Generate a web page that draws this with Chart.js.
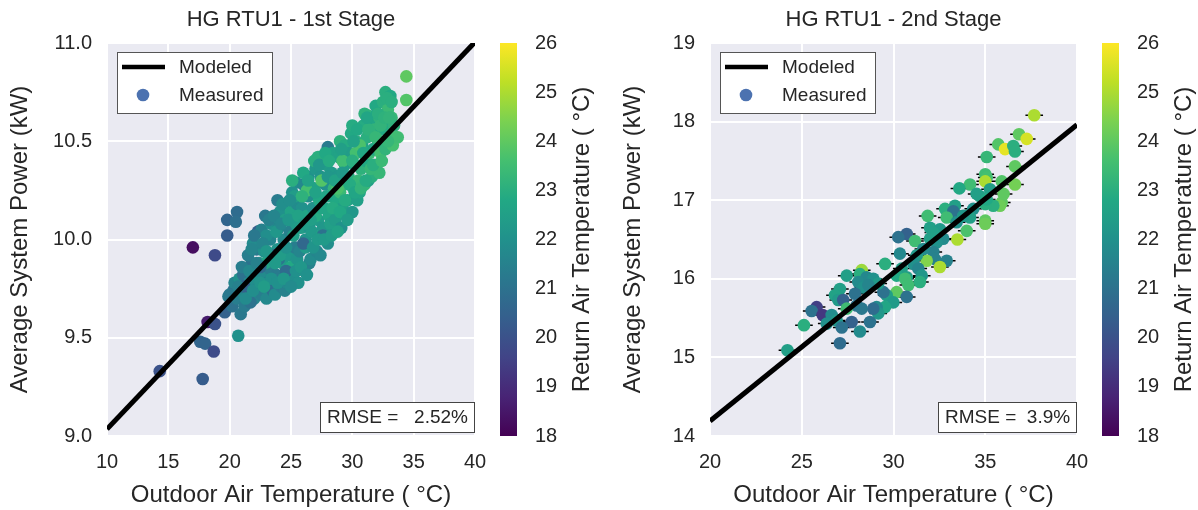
<!DOCTYPE html>
<html>
<head>
<meta charset="utf-8">
<script src="https://cdn.jsdelivr.net/npm/chart.js@4.4.1/dist/chart.umd.min.js"></script>
<style>
  html, body { margin: 0; padding: 0; background: #fff; }
  #wrap { position: relative; width: 1198px; height: 510px; overflow: hidden; }
  #wrap canvas { position: absolute; top: 0; }
</style>
</head>
<body>
<div id="wrap">
  <canvas id="stage1" width="510" height="510" style="left:0px"></canvas>
  <canvas id="bar1" width="110" height="510" style="left:490px"></canvas>
  <canvas id="stage2" width="510" height="510" style="left:600px"></canvas>
  <canvas id="bar2" width="106" height="510" style="left:1092px"></canvas>
</div>
<script>
// ---- 1st stage: outdoor temp (C), avg power (kW), return air temp (C)
const outdoorTemp1 = [
  34.4,34.4,33.7,32.7,33.1,31.3,31.9,28.0,27.2,25.4,26.4,23.9,24.8,20.6,19.8,20.5,19.8,17.0,18.8,22.3,20.7,18.2,18.8,17.6,18.0,18.7,14.3,17.8,19.6,20.3,19.9,
  20.2,20.6,20.9,20.4,21.0,20.8,21.2,21.1,
  21.4,21.6,21.8,21.5,22.0,22.1,22.2,21.9,22.3,22.4,21.7,
  22.6,22.7,22.8,22.6,22.9,23.0,23.1,23.2,23.3,23.4,23.5,23.0,23.3,22.9,
  23.7,23.8,23.9,24.0,24.1,24.2,24.3,24.4,24.5,24.0,24.3,24.5,23.8,
  24.7,24.8,24.9,25.0,25.1,25.2,25.3,25.4,25.5,25.0,25.3,24.9,25.5,
  25.6,25.7,25.8,25.9,26.0,26.1,26.2,26.3,26.4,26.5,26.0,26.2,26.5,
  26.6,26.7,26.8,26.9,27.0,27.1,27.2,27.3,27.4,27.5,26.9,27.4,27.0,
  27.6,27.7,27.8,27.9,28.0,28.1,28.2,28.3,28.4,28.5,28.2,28.5,27.8,
  28.6,28.7,28.8,28.9,29.0,29.1,29.2,29.3,29.4,29.5,29.0,29.4,
  29.6,29.7,29.8,29.9,30.0,30.1,30.2,30.3,30.4,30.5,30.0,30.3,
  30.6,30.7,30.8,30.9,31.0,31.1,31.2,31.3,31.4,31.5,31.0,
  31.6,31.7,31.8,31.9,32.0,32.1,32.2,32.3,32.4,32.5,32.2,
  32.7,32.8,32.9,33.0,33.2,33.3,33.4,32.8,
  26.3,27.5,28.8,30.6,29.2,21.2,22.5,23.6,24.6,26.0,27.6,
  20.0,20.7,21.3,21.0,
  21.6,21.9,22.2,22.0,21.8,
  22.5,22.7,23.0,23.2,23.4,22.8,
  23.6,23.9,24.1,24.2,24.4,23.7,
  24.6,24.8,25.0,25.2,25.4,25.1,
  25.6,25.8,25.9,26.1,26.3,26.4,
  26.6,26.8,27.0,27.2,27.3,27.5,
  27.7,27.9,28.1,28.3,28.4,28.0,
  28.6,28.8,29.0,29.2,29.4,29.1,
  29.6,29.8,30.0,30.2,30.4,30.1,
  30.7,30.9,31.1,31.3,31.5,31.2,
  31.7,31.9,32.1,32.3,32.4,32.6,
  33.0,33.2,33.5,32.9
];
const power1 = [
  10.83,10.71,10.52,10.75,10.73,10.63,10.63,10.47,10.42,10.29,10.32,10.20,10.19,10.14,10.10,10.09,10.02,9.96,9.92,10.04,9.51,9.58,9.57,9.48,9.47,9.43,9.33,9.29,9.63,9.74,9.71,
  9.66,9.70,9.62,9.78,9.74,9.80,9.66,9.82,
  9.72,9.78,9.88,9.92,9.70,9.82,9.95,9.98,9.75,9.88,9.68,
  9.72,9.82,9.94,10.05,10.12,9.70,9.78,9.90,10.00,10.08,9.74,10.02,9.85,9.88,
  9.72,9.82,9.95,10.06,10.14,9.76,9.88,10.00,10.10,9.90,10.18,9.74,10.04,
  9.78,9.92,10.04,10.14,10.24,9.80,9.96,10.08,10.18,9.86,10.22,10.20,9.90,
  9.78,9.94,10.06,10.16,10.28,9.84,10.00,10.12,10.22,9.88,10.34,9.96,10.06,
  9.90,10.04,10.16,10.26,10.36,9.94,10.10,10.20,10.32,10.02,10.40,9.92,10.12,
  10.06,10.16,10.28,10.38,9.98,10.12,10.22,10.34,10.44,10.04,10.08,10.26,10.44,
  10.10,10.20,10.32,10.42,10.50,10.06,10.16,10.28,10.38,10.12,10.24,10.48,
  10.20,10.32,10.44,10.54,10.14,10.26,10.38,10.50,10.20,10.30,10.58,10.44,
  10.24,10.36,10.48,10.58,10.28,10.40,10.52,10.30,10.44,10.60,10.64,
  10.32,10.46,10.56,10.68,10.38,10.50,10.62,10.44,10.56,10.70,10.34,
  10.46,10.58,10.66,10.52,10.62,10.48,10.58,10.72,
  10.25,10.30,10.26,10.48,10.40,9.76,9.86,9.92,9.84,9.98,10.02,
  9.72,9.76,9.70,9.86,
  9.84,9.74,9.88,10.02,9.95,
  9.78,9.98,9.94,10.10,9.80,9.76,
  10.12,9.78,9.92,10.08,9.80,9.88,
  9.96,10.10,9.76,10.02,9.84,10.30,
  10.12,9.86,10.22,10.08,9.82,10.30,
  10.10,9.96,10.24,10.00,10.38,10.16,
  10.00,10.22,10.40,10.02,10.16,10.32,
  10.30,10.04,10.14,10.34,10.20,10.46,
  10.10,10.28,10.40,10.24,10.56,10.50,
  10.26,10.44,10.30,10.56,10.36,10.62,
  10.38,10.52,10.64,10.58,10.40,10.62,
  10.62,10.70,10.52,10.50
];
const returnTemp1 = [
  24.0,23.8,23.5,23.0,22.8,23.2,22.8,21.3,23.0,21.8,22.0,21.3,23.6,20.8,20.6,20.9,20.3,18.3,19.8,20.4,22.0,18.6,20.0,20.6,20.6,19.8,20.0,20.3,20.5,21.0,21.3,
  21.0,21.4,21.2,21.6,21.8,22.0,21.3,21.0,
  21.5,21.9,21.0,21.4,21.6,22.0,21.2,21.8,21.3,22.2,21.0,
  21.4,21.8,22.0,21.5,21.2,21.7,21.2,22.4,21.6,22.0,20.9,21.9,21.4,22.6,
  21.8,21.3,22.1,21.6,22.0,21.4,22.3,21.8,22.4,21.1,21.9,21.5,22.2,
  21.7,22.2,21.5,22.6,22.0,21.9,21.4,22.3,21.8,22.8,22.4,21.9,22.1,
  22.0,21.6,22.4,22.0,21.7,22.5,22.1,22.7,21.9,21.5,22.8,22.3,22.0,
  21.8,22.3,22.0,22.6,22.2,21.6,22.4,22.8,22.1,22.5,23.0,21.7,22.9,
  22.2,22.6,22.0,22.4,21.9,22.7,23.0,22.3,22.6,22.1,22.5,23.2,22.8,
  22.4,22.8,22.2,22.6,23.1,22.0,22.5,23.0,22.4,22.7,23.4,22.9,
  22.6,23.0,22.4,22.8,22.2,23.2,22.6,23.0,22.5,23.3,22.9,23.6,
  22.7,23.1,22.6,22.9,23.3,22.8,23.0,22.5,23.4,22.7,23.1,
  23.0,22.7,23.2,22.8,23.5,22.9,23.1,23.6,22.8,23.0,23.3,
  23.2,22.9,23.4,23.0,23.3,23.6,23.1,23.0,
  23.6,23.8,23.7,23.7,23.5,20.5,20.8,20.6,20.8,20.7,21.0,
  21.2,21.5,21.8,21.4,
  21.7,21.9,21.5,21.2,21.6,
  22.1,21.6,22.2,21.5,22.0,22.4,
  21.6,22.0,22.4,21.7,22.2,22.3,
  22.0,22.2,21.8,22.5,22.0,23.0,
  22.6,22.2,23.1,22.4,22.0,22.6,
  22.5,22.1,22.6,22.3,22.2,22.7,
  22.3,22.7,22.9,22.4,22.9,22.2,
  22.6,22.6,22.8,22.3,22.9,22.5,
  22.4,22.9,23.0,22.7,22.8,22.6,
  23.2,22.8,22.9,23.1,23.3,22.7,
  23.0,23.3,23.0,23.2,23.4,23.1,
  23.2,23.0,23.5,23.3
];
const modelTemp1 = [10, 40];
const modelPower1 = [9.035, 11.005];

// ---- 2nd stage
const outdoorTemp2 = [
  37.67,36.84,37.26,35.71,36.08,36.53,36.62,35.08,36.62,35.00,
  35.08,35.00,36.62,35.90,34.17,33.59,36.00,35.26,35.90,35.80,
  35.44,35.00,34.35,33.99,34.17,33.35,32.81,33.26,32.90,35.00,
  35.00,33.99,33.48,31.86,31.99,32.53,32.17,32.71,32.35,30.72,
  30.26,31.17,31.99,32.17,32.26,32.90,32.53,31.81,31.63,31.27,
  30.35,29.54,31.08,31.35,31.54,30.45,30.72,30.17,30.63,30.81,
  31.44,30.17,30.72,29.63,29.99,29.54,29.08,29.17,28.90,29.45,
  28.27,28.17,27.45,28.54,28.90,29.17,28.08,28.36,28.63,27.08,
  26.81,26.99,27.90,27.26,27.99,28.27,27.45,25.81,25.54,26.14,
  26.63,26.90,27.72,28.72,25.12,26.36,27.18,28.17,27.08,24.22,
  34.53,34.71,35.08,33.44,33.80
];
const power2 = [
  18.08,17.84,17.78,17.71,17.65,17.69,17.62,17.55,17.43,17.33,
  17.29,17.24,17.20,17.24,17.20,17.15,17.08,17.14,16.97,16.93,
  16.93,16.95,16.89,16.80,16.78,16.93,16.89,16.86,16.78,16.74,
  16.70,16.61,16.50,16.80,16.65,16.63,16.59,16.51,16.46,16.57,
  16.53,16.48,16.51,16.34,16.25,16.23,16.15,16.23,16.38,16.30,
  16.32,16.19,16.19,16.13,16.04,16.13,16.02,16.04,16.00,15.92,
  15.96,15.83,15.77,15.79,15.70,15.64,15.64,15.56,15.62,15.83,
  16.11,16.06,16.04,16.02,16.00,15.94,15.96,15.89,15.92,15.87,
  15.79,15.73,15.81,15.73,15.66,15.62,15.62,15.64,15.59,15.54,
  15.54,15.47,15.45,15.45,15.41,15.43,15.38,15.33,15.18,15.09,
  17.08,17.05,17.01,16.72,16.80
];
const returnTemp2 = [
  25.0,24.0,25.5,23.8,25.7,23.0,23.0,23.3,24.0,23.5,
  23.6,25.0,24.3,23.8,23.5,22.8,24.0,22.5,24.0,24.2,
  23.0,23.0,22.0,22.5,22.5,22.5,23.0,21.0,23.5,24.0,
  24.2,23.7,25.0,23.5,22.5,22.3,22.5,21.8,22.0,20.5,
  21.0,23.5,22.5,21.5,21.5,21.5,25.0,24.5,21.8,22.3,
  21.7,23.0,22.0,21.6,22.2,22.5,22.5,22.8,23.5,23.5,
  23.0,24.0,21.0,22.5,22.3,22.7,21.8,22.2,20.8,21.0,
  24.8,23.0,22.5,21.7,22.0,22.3,21.8,22.0,21.6,22.5,
  22.6,22.3,21.0,20.5,21.0,21.2,23.5,19.5,21.0,19.3,
  21.8,22.2,20.5,21.0,23.0,22.0,21.0,21.8,20.8,22.5,
  22.5,22.5,22.8,22.0,22.2
];
const tempErr2 = 0.48;
const modelTemp2 = [20, 40];
const modelPower2 = [14.19, 17.96];

// ---- axes / colour bar
const tempTicks1 = [10, 15, 20, 25, 30, 35, 40];
const powerTicks1 = [9.0, 9.5, 10.0, 10.5, 11.0];
const tempTicks2 = [20, 25, 30, 35, 40];
const powerTicks2 = [14, 15, 16, 17, 18, 19];
const cbTicks = [18, 19, 20, 21, 22, 23, 24, 25, 26];
const viridisStops = ['#440154','#482475','#414487','#355f8d','#2a788e','#21918c','#22a884','#44bf70','#7ad151','#bddf26','#fde725'];
const measuredKeyColor = '#4c72b0';

const FONT = '"Liberation Sans", Arial, sans-serif';
const INK = '#262626';
Chart.defaults.font.family = FONT;
Chart.defaults.color = INK;

function hexRgb(h) {
    return [parseInt(h.slice(1,3),16), parseInt(h.slice(3,5),16), parseInt(h.slice(5,7),16)];
}
function viridis(v) {
    const lo = cbTicks[0], hi = cbTicks[cbTicks.length-1];
    const t = Math.min(1, Math.max(0, (v - lo) / (hi - lo)));
    const p = t * (viridisStops.length - 1);
    const i = Math.min(Math.floor(p), viridisStops.length - 2);
    const f = p - i;
    const a = hexRgb(viridisStops[i]), b = hexRgb(viridisStops[i+1]);
    return `rgb(${Math.round(a[0]+(b[0]-a[0])*f)},${Math.round(a[1]+(b[1]-a[1])*f)},${Math.round(a[2]+(b[2]-a[2])*f)})`;
}

// grey plot background
const plotBg = {
    id: 'plotBg',
    beforeDraw(chart) {
        const a = chart.chartArea, ctx = chart.ctx;
        ctx.save();
        ctx.fillStyle = '#eaeaf2';
        ctx.fillRect(a.left, a.top, a.right - a.left, a.bottom - a.top);
        ctx.restore();
    }
};

// horizontal error bars behind the dots
const errorBars = {
    id: 'errorBars',
    beforeDatasetsDraw(chart, args, opts) {
        if (!opts.err) return;
        const ds = chart.data.datasets[1], xs = chart.scales.x, ys = chart.scales.y, ctx = chart.ctx;
        ctx.save();
        ctx.strokeStyle = '#000';
        ctx.lineWidth = 1.5;
        ctx.beginPath();
        ds.data.forEach(p => {
            const y = ys.getPixelForValue(p.y);
            ctx.moveTo(xs.getPixelForValue(p.x - opts.err), y);
            ctx.lineTo(xs.getPixelForValue(p.x + opts.err), y);
        });
        ctx.stroke();
        ctx.restore();
    }
};

// legend box in the top-left corner of the plot
const insetLegend = {
    id: 'insetLegend',
    afterDatasetsDraw(chart) {
        const a = chart.chartArea, ctx = chart.ctx;
        const line = chart.data.datasets[0], dots = chart.data.datasets[1];
        const x = a.left + 10, y = a.top + 9, w = 155, h = 61;
        ctx.save();
        ctx.fillStyle = '#fff';
        ctx.fillRect(x, y, w, h);
        ctx.strokeStyle = '#555';
        ctx.lineWidth = 1;
        ctx.strokeRect(x + 0.5, y + 0.5, w, h);
        ctx.strokeStyle = line.borderColor;
        ctx.lineWidth = 4.5;
        ctx.beginPath();
        ctx.moveTo(x + 5, y + 15);
        ctx.lineTo(x + 48, y + 15);
        ctx.stroke();
        ctx.fillStyle = measuredKeyColor;
        ctx.beginPath();
        ctx.arc(x + 26, y + 43, 6.3, 0, Math.PI * 2);
        ctx.fill();
        ctx.fillStyle = INK;
        ctx.font = '19px ' + FONT;
        ctx.textBaseline = 'middle';
        ctx.fillText(line.label, x + 62, y + 16);
        ctx.fillText(dots.label, x + 62, y + 44);
        ctx.restore();
    }
};

// RMSE annotation, bottom-right corner
const rmseBox = {
    id: 'rmseBox',
    afterDatasetsDraw(chart, args, opts) {
        const a = chart.chartArea, ctx = chart.ctx;
        ctx.save();
        ctx.font = '19px ' + FONT;
        const w = Math.round(ctx.measureText(opts.text).width) + 13, h = 30;
        const x = a.right - 1 - w, y = a.bottom - 4 - h;
        ctx.fillStyle = '#fff';
        ctx.fillRect(x, y, w, h);
        ctx.strokeStyle = '#444';
        ctx.lineWidth = 1;
        ctx.strokeRect(x + 0.5, y + 0.5, w, h);
        ctx.fillStyle = INK;
        ctx.textBaseline = 'middle';
        ctx.fillText(opts.text, x + 7, y + h / 2 + 1);
        ctx.restore();
    }
};

// colour bar label, reads bottom to top
const cbLabel = {
    id: 'cbLabel',
    afterDraw(chart, args, opts) {
        const a = chart.chartArea, ctx = chart.ctx;
        ctx.save();
        ctx.translate(a.right + 65, (a.top + a.bottom) / 2);
        ctx.rotate(-Math.PI / 2);
        ctx.font = '24px ' + FONT;
        ctx.fillStyle = INK;
        ctx.textAlign = 'center';
        ctx.textBaseline = 'middle';
        ctx.fillText(opts.text, 0, 0);
        ctx.restore();
    }
};

function axis(position, ticks, size, pad, title, titlePad, fmt) {
    return {
        type: 'linear',
        position: position,
        min: ticks[0],
        max: ticks[ticks.length - 1],
        afterBuildTicks: s => { s.ticks = ticks.map(v => ({ value: v })); },
        afterFit: s => { if (position === 'bottom') s.height = size; else s.width = size; },
        grid: { color: '#ffffff', lineWidth: 2, drawTicks: false },
        border: { display: false },
        ticks: { font: { size: 20 }, color: INK, padding: pad, callback: fmt },
        title: { display: true, text: title, font: { size: 24 }, color: INK, padding: titlePad }
    };
}

function makePanel(id, cfg) {
    return new Chart(document.getElementById(id), {
        type: 'scatter',
        data: {
            datasets: [{
                type: 'line',
                label: 'Modeled',
                data: cfg.modelX.map((x, i) => ({ x: x, y: cfg.modelY[i] })),
                borderColor: '#000',
                borderWidth: 5,
                pointRadius: 0,
                fill: false,
                clip: 0
            }, {
                label: 'Measured',
                data: cfg.x.map((x, i) => ({ x: x, y: cfg.y[i] })),
                pointBackgroundColor: cfg.c.map(viridis),
                pointBorderWidth: 0,
                pointRadius: 6.3,
                pointHoverRadius: 6.3
            }]
        },
        options: {
            responsive: false,
            animation: false,
            events: [],
            layout: { padding: { left: 0, right: cfg.padRight, top: 0, bottom: 0 } },
            plugins: {
                legend: { display: false },
                tooltip: { enabled: false },
                title: {
                    display: true, text: cfg.title, fullSize: false, color: INK,
                    font: { size: 22, weight: 'normal' }, padding: { top: 7, bottom: 9.6 }
                },
                rmseBox: { text: cfg.rmse },
                errorBars: { err: cfg.err }
            },
            scales: {
                x: axis('bottom', cfg.xTicks, 74, 14, 'Outdoor Air Temperature ( \u00B0C)', { top: 0, bottom: 0 }, v => String(v)),
                y: axis('left', cfg.yTicks, cfg.yWidth, 15, 'Average System Power (kW)', { top: cfg.yTitlePad, bottom: 0 }, cfg.yFmt)
            }
        },
        plugins: [plotBg, errorBars, insetLegend, rmseBox]
    });
}

function makeColorBar(id, axisWidth) {
    return new Chart(document.getElementById(id), {
        type: 'bar',
        data: {
            labels: [''],
            datasets: [{
                data: [[cbTicks[0], cbTicks[cbTicks.length - 1]]],
                backgroundColor: ctx => {
                    const a = ctx.chart.chartArea;
                    if (!a) return viridis(22);
                    const g = ctx.chart.ctx.createLinearGradient(0, a.bottom, 0, a.top);
                    viridisStops.forEach((c, i) => g.addColorStop(i / (viridisStops.length - 1), c));
                    return g;
                },
                borderWidth: 0,
                barPercentage: 1,
                categoryPercentage: 1
            }]
        },
        options: {
            responsive: false,
            animation: false,
            events: [],
            layout: { padding: { left: 10, right: 0, top: 43, bottom: 74 } },
            plugins: {
                legend: { display: false },
                tooltip: { enabled: false },
                cbLabel: { text: 'Return Air Temperature ( \u00B0C)' }
            },
            scales: {
                x: { display: false },
                y: {
                    position: 'right',
                    min: cbTicks[0],
                    max: cbTicks[cbTicks.length - 1],
                    afterBuildTicks: s => { s.ticks = cbTicks.map(v => ({ value: v })); },
                    afterFit: s => { s.width = axisWidth; },
                    grid: { display: false, drawTicks: false },
                    border: { display: false },
                    ticks: { font: { size: 20 }, color: INK, padding: 18 }
                }
            }
        },
        plugins: [cbLabel]
    });
}

makePanel('stage1', {
    title: 'HG RTU1 - 1st Stage',
    x: outdoorTemp1, y: power1, c: returnTemp1,
    modelX: modelTemp1, modelY: modelPower1,
    xTicks: tempTicks1, yTicks: powerTicks1,
    yWidth: 107, yTitlePad: 6, padRight: 35,
    yFmt: v => v.toFixed(1),
    rmse: 'RMSE =   2.52%',
    err: 0
});
makeColorBar('bar1', 83);

makePanel('stage2', {
    title: 'HG RTU1 - 2nd Stage',
    x: outdoorTemp2, y: power2, c: returnTemp2,
    modelX: modelTemp2, modelY: modelPower2,
    xTicks: tempTicks2, yTicks: powerTicks2,
    yWidth: 110, yTitlePad: 19, padRight: 33,
    yFmt: v => String(v),
    rmse: 'RMSE =  3.9%',
    err: tempErr2
});
makeColorBar('bar2', 79);
</script>
</body>
</html>
